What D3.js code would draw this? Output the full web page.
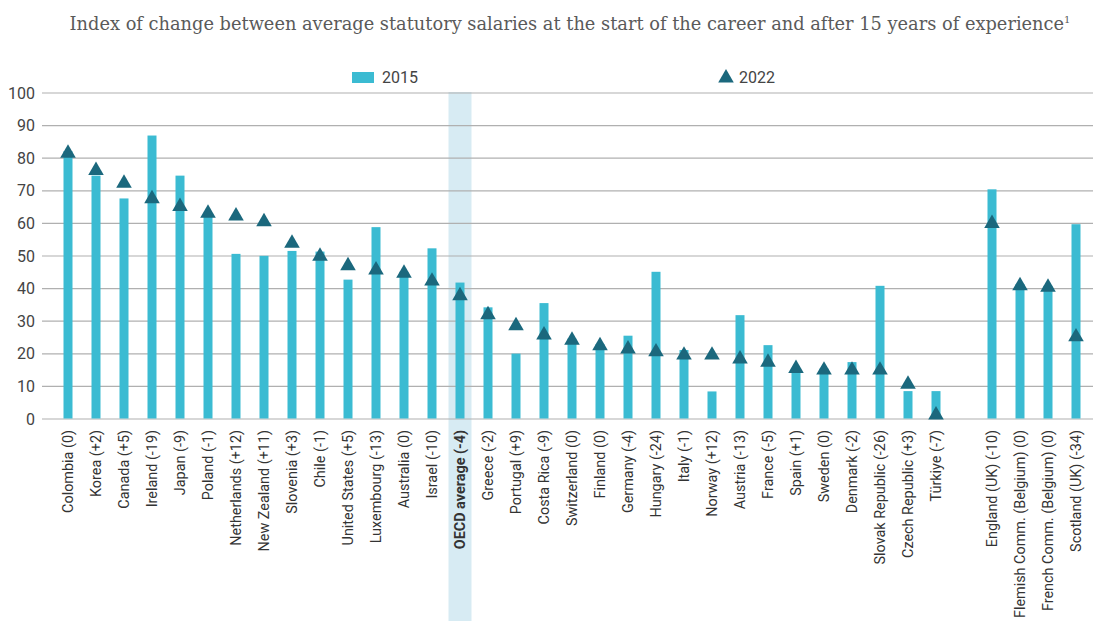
<!DOCTYPE html>
<html>
<head>
<meta charset="utf-8">
<script src="https://cdn.jsdelivr.net/npm/d3@7"></script>
<style>
  body { margin: 0; background: #fff; }
  svg { display: block; }
  .title { font-family: "DejaVu Serif", serif; font-size: 17.8px; fill: #5a5a5a; }
  .tick-y { font-family: Roboto, sans-serif; font-size: 16px; fill: #444; }
  .tick-x { font-family: Roboto, sans-serif; font-size: 14.4px; fill: #333; }
  .legend text { font-family: Roboto, sans-serif; font-size: 16px; fill: #444; }
</style>
</head>
<body>
<svg class="chart" width="1093" height="621"></svg>
<script>
// categories, "" marks the empty slot before the sub-national entries
const countries = [
  "Colombia (0)", "Korea (+2)", "Canada (+5)", "Ireland (-19)", "Japan (-9)",
  "Poland (-1)", "Netherlands (+12)", "New Zealand (+11)", "Slovenia (+3)", "Chile (-1)",
  "United States (+5)", "Luxembourg (-13)", "Australia (0)", "Israel (-10)", "OECD average (-4)",
  "Greece (-2)", "Portugal (+9)", "Costa Rica (-9)", "Switzerland (0)", "Finland (0)",
  "Germany (-4)", "Hungary (-24)", "Italy  (-1)", "Norway (+12)", "Austria (-13)",
  "France (-5)", "Spain (+1)", "Sweden (0)", "Denmark (-2)", "Slovak Republic (-26)",
  "Czech Republic (+3)", "Türkiye (-7)", "",
  "England (UK) (-10)", "Flemish Comm. (Belgium) (0)", "French Comm. (Belgium) (0)", "Scotland (UK) (-34)"
];

const values2015 = [
  82, 74.5, 67.5, 86.8, 74.5,
  62.4, 50.5, 49.9, 51.4, 51.2,
  42.6, 58.7, 45, 52.2, 41.7,
  34.1, 19.9, 35.4, 24.5, 22.8,
  25.4, 45, 21, 8.3, 31.7,
  22.5, 14.8, 15.3, 17.3, 40.7,
  8.4, 8.4, null,
  70.3, 41.2, 40.7, 59.6
];

const values2022 = [
  81.8, 76.5, 72.6, 67.9, 65.5,
  63.4, 62.6, 60.8, 54.2, 50.2,
  47.3, 46, 45, 42.6, 38.1,
  32.3, 28.9, 26.1, 24.5, 22.8,
  21.8, 20.9, 19.9, 19.9, 18.7,
  17.7, 15.8, 15.3, 15.3, 15.3,
  11, 1.5, null,
  60.3, 41.2, 40.7, 25.5
];

const yTicks = [0, 10, 20, 30, 40, 50, 60, 70, 80, 90, 100];
const seriesNames = ["2015", "2022"];
const highlight = "OECD average (-4)";

function createChart() {
  const svg = d3.select(".chart");
  const w = +svg.attr("width");
  const h = +svg.attr("height");
  const barColor = "#3bbbd2";
  const markerColor = "#1b687d";

  const slots = countries.map((c, i) => (c === "" ? "gap" + i : c));
  const dataset = countries.map((c, i) => ({
    name: c,
    slot: slots[i],
    v2015: values2015[i],
    v2022: values2022[i],
  }));

  const xScale = d3.scaleBand().domain(slots).range([54, 1090]);
  const yScale = d3.scaleLinear().domain([0, 100]).range([418.5, 92.5]);

  // highlight band
  svg
    .append("rect")
    .attr("x", xScale(highlight) + xScale.bandwidth() / 2 - 11.5)
    .attr("y", 92)
    .attr("width", 23)
    .attr("height", h - 92)
    .attr("fill", "#d7ebf3");

  // grid + y axis
  const yAxis = d3.axisLeft(yScale).tickValues(yTicks).tickSize(-(w - 42)).tickPadding(8);
  const gy = svg
    .append("g")
    .attr("transform", "translate(42, 0)")
    .call(yAxis);
  gy.select(".domain").remove();
  gy.selectAll(".tick line").attr("stroke", "#b0b0b0").attr("stroke-width", 1.2);
  gy.selectAll(".tick text").attr("class", "tick-y").attr("x", -7).attr("dy", "0.35em");

  // bars
  svg
    .append("g")
    .selectAll("rect")
    .data(dataset.filter((d) => d.v2015 != null))
    .enter()
    .append("rect")
    .attr("x", (d) => xScale(d.slot) + xScale.bandwidth() / 2 - 4.5)
    .attr("y", (d) => yScale(d.v2015))
    .attr("width", 9)
    .attr("height", (d) => yScale(0) - yScale(d.v2015))
    .attr("fill", barColor);

  // triangles
  const tri = d3.symbol().type(d3.symbolTriangle).size(105);
  svg
    .append("g")
    .selectAll("path")
    .data(dataset.filter((d) => d.v2022 != null))
    .enter()
    .append("path")
    .attr("d", tri)
    .attr("transform", (d) =>
      "translate(" + (xScale(d.slot) + xScale.bandwidth() / 2) + "," + (yScale(d.v2022) + 1.5) + ")"
    )
    .attr("fill", markerColor);

  // x labels
  svg
    .append("g")
    .selectAll("text")
    .data(dataset.filter((d) => d.name !== ""))
    .enter()
    .append("text")
    .attr("class", "tick-x")
    .attr("transform", (d) =>
      "translate(" + (xScale(d.slot) + xScale.bandwidth() / 2) + ", 430) rotate(-90)"
    )
    .attr("dy", "0.35em")
    .attr("text-anchor", "end")
    .attr("font-weight", (d) => (d.name === highlight ? "bold" : null))
    .text((d) => d.name);

  // legend
  const legend = svg.append("g").attr("class", "legend");
  legend
    .append("rect")
    .attr("x", 352)
    .attr("y", 72)
    .attr("width", 22)
    .attr("height", 11)
    .attr("fill", barColor);
  legend.append("text").attr("x", 382).attr("y", 83).text(seriesNames[0]);
  legend
    .append("path")
    .attr("d", tri)
    .attr("transform", "translate(726, 78)")
    .attr("fill", markerColor);
  legend.append("text").attr("x", 739).attr("y", 83).text(seriesNames[1]);

  // title
  const title = svg
    .append("text")
    .attr("class", "title")
    .attr("x", 570)
    .attr("y", 30)
    .attr("text-anchor", "middle");
  title.append("tspan").text(
    "Index of change between average statutory salaries at the start of the career and after 15 years of experience"
  );
  title.append("tspan").attr("font-size", "10px").attr("dy", "-7").text("1");
}

createChart();
</script>
</body>
</html>
